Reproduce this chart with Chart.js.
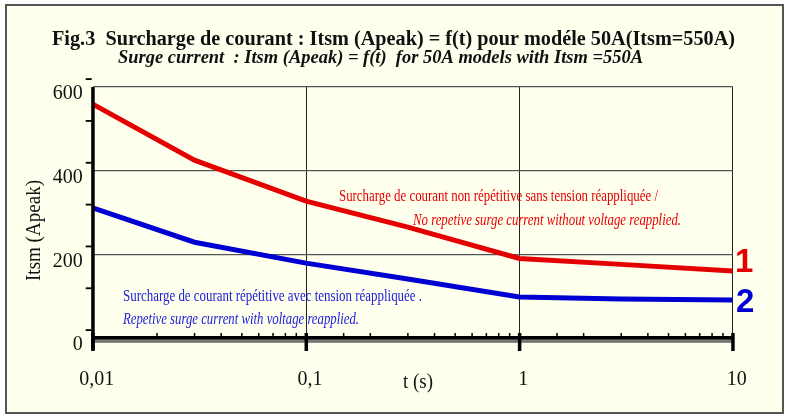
<!DOCTYPE html>
<html>
<head>
<meta charset="utf-8">
<script src="https://cdn.jsdelivr.net/npm/chart.js@4/dist/chart.umd.min.js"></script>
<style>
  body { margin: 0; background: #fff; }
  #wrap { width: 789px; height: 418px; }
</style>
</head>
<body>
<div id="wrap"><canvas id="surge"></canvas></div>
<script>
// time in seconds (log axis)
const times = [0.01, 0.03, 0.1, 0.3, 1, 3, 10];
// curve 1 : non repetitive surge, no voltage reapplied
const itsmNonRep = [559, 425, 327, 265, 190, 176, 160];
// curve 2 : repetitive surge, voltage reapplied
const itsmRep = [311, 229, 179, 141, 98, 93, 91];
const xLabels = { 0.01: "0,01", 0.1: "0,1", 1: "1", 10: "10" };
const yTicks = [0, 200, 400, 600];

const BG = "#ffffee";
const RED = "#e40000";
const BLUE = "#0000d2";

const isDecade = function (v) {
  const l = Math.log10(v);
  return Math.abs(l - Math.round(l)) < 1e-6;
};

// draws text squeezed to a given width (the original uses a narrow face)
const fitText = function (ctx, text, font, color, x, y, w) {
  ctx.save();
  ctx.font = font;
  ctx.fillStyle = color;
  ctx.textAlign = "left";
  ctx.textBaseline = "alphabetic";
  const m = ctx.measureText(text).width;
  ctx.translate(x, y);
  ctx.scale(w / m, 1);
  ctx.fillText(text, 0, 0);
  ctx.restore();
};

const decor = {
  id: "decor",
  beforeDraw(chart) {
    const ctx = chart.ctx;
    ctx.save();
    ctx.fillStyle = "#fff";
    ctx.fillRect(0, 0, chart.width, chart.height);
    ctx.fillStyle = BG;
    ctx.fillRect(6, 5, 777, 408);
    ctx.strokeStyle = "#555";
    ctx.lineWidth = 2;
    ctx.strokeRect(6, 5, 777, 408);
    ctx.restore();
  },
  afterDatasetsDraw(chart) {
    const ctx = chart.ctx;
    const xs = chart.scales.x;
    const ys = chart.scales.y;
    const y0 = ys.getPixelForValue(0);
    const xl = xs.getPixelForValue(0.01);
    const xr = xs.getPixelForValue(10);
    ctx.save();
    // x axis: black bar with grey double line under it
    ctx.fillStyle = "#888";
    ctx.fillRect(xl, y0 + 1, xr - xl, 4);
    ctx.fillStyle = "#000";
    ctx.fillRect(xl, y0 - 2, xr - xl, 3.5);
    ctx.fillStyle = "#666";
    ctx.fillRect(xl, y0 + 2.5, xr - xl, 1);
    // x ticks
    xs.ticks.forEach(function (t) {
      const px = xs.getPixelForValue(t.value);
      if (isDecade(t.value)) {
        ctx.fillStyle = "#000";
        ctx.fillRect(px - 1.5, y0 - 5, 3.5, 18);
      } else {
        ctx.fillStyle = "#000";
        ctx.fillRect(px - 0.7, y0 - 5, 1.5, 6);
      }
    });
    // y axis
    ctx.fillStyle = "#000";
    ctx.fillRect(xl - 1.5, ys.getPixelForValue(600), 3.5, y0 + 12 - ys.getPixelForValue(600));
    // y ticks (drawn a bit above the grid in the original)
    for (let v = 0; v <= 600; v += 100) {
      const py = ys.getPixelForValue(v) - 8;
      ctx.fillRect(xl - 7, py - 0.8, 6, 1.8);
    }
    ctx.restore();

    // titles
    fitText(ctx, "Fig.3  Surcharge de courant : Itsm (Apeak) = f(t) pour modéle 50A(Itsm=550A)",
      'bold 20px "Liberation Serif"', "#111", 52, 45, 683);
    fitText(ctx, "Surge current  : Itsm (Apeak) = f(t)  for 50A models with Itsm =550A",
      'italic bold 18px "Liberation Serif"', "#111", 118, 63, 525);

    // axis titles
    ctx.save();
    ctx.translate(40, 281);
    ctx.rotate(-Math.PI / 2);
    fitText(ctx, "Itsm (Apeak)", '20px "Liberation Serif"', "#111", 0, 0, 101);
    ctx.restore();
    fitText(ctx, "t (s)", '20px "Liberation Serif"', "#111", 403, 388, 30);

    // curve notes
    fitText(ctx, "Surcharge de courant non répétitive sans tension réappliquée /",
      '16px "Liberation Serif"', RED, 339, 201, 319);
    fitText(ctx, "No repetive surge current without voltage reapplied.",
      'italic 16px "Liberation Serif"', RED, 413, 225, 268);
    fitText(ctx, "Surcharge de courant répétitive avec tension réappliquée .",
      '16px "Liberation Serif"', "#2020d8", 123, 301, 299);
    fitText(ctx, "Repetive surge current with voltage reapplied.",
      'italic 16px "Liberation Serif"', "#2020d8", 123, 324, 236);

    ctx.save();
    ctx.font = 'bold 33px "Liberation Sans"';
    ctx.textBaseline = "alphabetic";
    ctx.fillStyle = RED;
    ctx.fillText("1", 735, 272);
    ctx.fillStyle = BLUE;
    ctx.fillText("2", 736, 312);
    ctx.restore();
  },
};

new Chart(document.getElementById("surge"), {
  type: "line",
  data: {
    datasets: [
      {
        label: "1",
        data: times.map((t, i) => ({ x: t, y: itsmNonRep[i] })),
        borderColor: RED,
        borderWidth: 5,
        pointRadius: 0,
        tension: 0,
      },
      {
        label: "2",
        data: times.map((t, i) => ({ x: t, y: itsmRep[i] })),
        borderColor: BLUE,
        borderWidth: 5,
        pointRadius: 0,
        tension: 0,
      },
    ],
  },
  options: {
    responsive: true,
    maintainAspectRatio: false,
    animation: false,
    layout: { padding: { top: 87, right: 56.3, left: 0, bottom: 0 } },
    plugins: {
      legend: { display: false },
      tooltip: { enabled: false },
      title: { display: false },
    },
    scales: {
      x: {
        type: "logarithmic",
        min: 0.01,
        max: 10,
        afterFit(scale) {
          scale.height = 80;
        },
        border: { display: false },
        grid: {
          drawTicks: false,
          lineWidth: 1,
          color: (c) => (c.tick && isDecade(c.tick.value) ? "#222" : "rgba(0,0,0,0)"),
        },
        ticks: {
          autoSkip: false,
          maxRotation: 0,
          padding: 30,
          labelOffset: 4,
          color: "#111",
          font: { family: "Liberation Serif", size: 20 },
          callback: (v) => xLabels[v] || "",
        },
      },
      y: {
        min: 0,
        max: 600,
        afterFit(scale) {
          scale.width = 92.7;
        },
        afterBuildTicks(scale) {
          scale.ticks = yTicks.map((v) => ({ value: v }));
        },
        border: { display: false },
        grid: {
          drawTicks: false,
          lineWidth: 1.2,
          color: (c) => (c.tick && c.tick.value === 0 ? "rgba(0,0,0,0)" : "#555"),
        },
        ticks: {
          padding: 10,
          labelOffset: 7,
          color: "#111",
          font: { family: "Liberation Serif", size: 20 },
        },
      },
    },
  },
  plugins: [decor],
});
</script>
</body>
</html>
